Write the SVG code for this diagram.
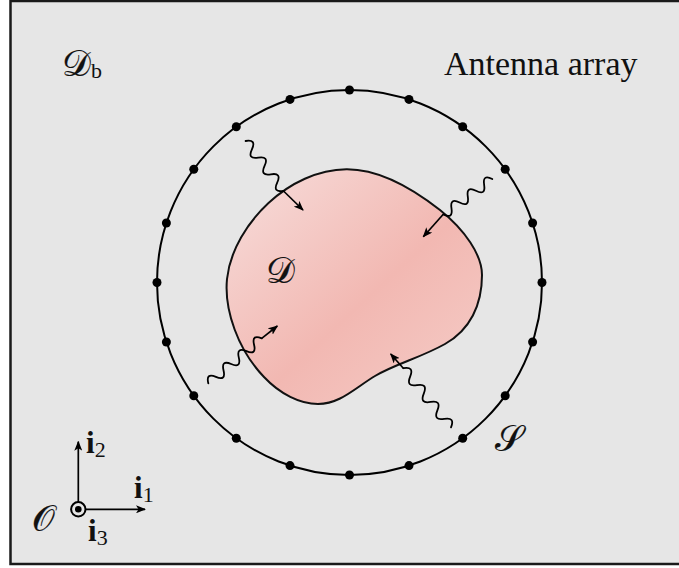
<svg xmlns="http://www.w3.org/2000/svg" width="679" height="568" viewBox="0 0 679 568">
<style>
.frame{fill:#e6e6e6;stroke:#1a1a1a;stroke-width:2.5}
.ring{fill:none;stroke:#000;stroke-width:2}
.dot{fill:#000}
.blob{stroke:#111;stroke-width:2}
.wave{fill:none;stroke:#000;stroke-width:1.8;stroke-linecap:round}
.arr{fill:none;stroke:#000;stroke-width:1.7;marker-end:url(#ah)}
.t{font-family:"Liberation Serif","DejaVu Serif",serif;fill:#111}
.cal{font-family:"DejaVu Serif","DejaVu Sans","Noto Sans",serif;fill:#111;stroke:#111;stroke-width:0.2}
.b{font-weight:bold}
</style>
<defs>
<linearGradient id="pink" x1="0" y1="0" x2="1" y2="1">
<stop offset="0" stop-color="#f7dedc"/>
<stop offset="0.55" stop-color="#f2b8b2"/>
<stop offset="1" stop-color="#f5cdc8"/>
</linearGradient>
<marker id="ah" viewBox="0 0 10 8" refX="9" refY="4" markerWidth="10" markerHeight="8" markerUnits="userSpaceOnUse" orient="auto">
<path d="M0,0 L10,4 L0,8 L2.5,4 Z" fill="#000"/>
</marker>
</defs>
<rect class="frame" x="10.5" y="1" width="680" height="563"/>
<g id="array">
<circle class="ring" cx="349.5" cy="282.5" r="192.5"/>
<circle class="dot" cx="542" cy="282.5" r="4.5"/>
<circle class="dot" cx="532.6" cy="223" r="4.5"/>
<circle class="dot" cx="505.2" cy="169.3" r="4.5"/>
<circle class="dot" cx="462.7" cy="126.8" r="4.5"/>
<circle class="dot" cx="409" cy="99.4" r="4.5"/>
<circle class="dot" cx="349.5" cy="90" r="4.5"/>
<circle class="dot" cx="290" cy="99.4" r="4.5"/>
<circle class="dot" cx="236.3" cy="126.8" r="4.5"/>
<circle class="dot" cx="193.8" cy="169.3" r="4.5"/>
<circle class="dot" cx="166.4" cy="223" r="4.5"/>
<circle class="dot" cx="157" cy="282.5" r="4.5"/>
<circle class="dot" cx="166.4" cy="342" r="4.5"/>
<circle class="dot" cx="193.8" cy="395.7" r="4.5"/>
<circle class="dot" cx="236.3" cy="438.2" r="4.5"/>
<circle class="dot" cx="290" cy="465.6" r="4.5"/>
<circle class="dot" cx="349.5" cy="475" r="4.5"/>
<circle class="dot" cx="409" cy="465.6" r="4.5"/>
<circle class="dot" cx="462.7" cy="438.2" r="4.5"/>
<circle class="dot" cx="505.2" cy="395.7" r="4.5"/>
<circle class="dot" cx="532.6" cy="342" r="4.5"/>
</g>
<g id="scatterer">
<path class="blob" fill="url(#pink)" d="M346.5,169.2 C318,169.5 290,183 268.5,203 C248,222 230,250 227,279 C224,310 238,350 264,377 C280,394 300,404 318,404 C340,404 355,388 375,376 C395,364 420,358 445,344 C470,330 482,305 482,275 C482,255 465,230 440,210 C412,188 378,169 346.5,169.2 Z"/>
</g>
<g id="connectors">
<path class="wave" transform="translate(245.6,141) rotate(52.8)" d="M0,0 Q5.225,-10 10.45,0 T20.9,0 T31.35,0 T41.8,0 T52.25,0 T62.7,0"/>
<path class="arr" d="M283.5,191 L303,210"/>
<path class="wave" transform="translate(492.3,179) rotate(144.2)" d="M0,0 Q5.03,10 10.07,0 T20.13,0 T30.2,0 T40.27,0 T50.33,0 T60.4,0"/>
<path class="arr" d="M443.3,214.3 L423.3,236.7"/>
<path class="wave" transform="translate(208.3,383.3) rotate(-40.1)" d="M0,0 Q4.99,-10 9.97,0 T19.94,0 T29.91,0 T39.89,0 T49.86,0 T59.83,0 T69.8,0"/>
<path class="arr" d="M261.7,338.3 L277.3,326"/>
<path class="wave" transform="translate(451,427.3) rotate(-128.9)" d="M0,0 Q5.42,10 10.84,0 T21.69,0 T32.53,0 T43.37,0 T54.21,0 T65.06,0 T75.9,0"/>
<path class="arr" d="M403.3,368.3 L390.7,354"/>
<path class="arr" d="M78.3,502 L78.3,441.7"/>
<path class="arr" d="M85.6,509.3 L145,509.3"/>
</g>
<g id="axes">
<circle cx="78.3" cy="509.3" r="7.2" fill="none" stroke="#000" stroke-width="2"/>
<circle cx="78.3" cy="509.3" r="3.3" fill="#000"/>
<text class="t b" x="86" y="453" font-size="31">i<tspan font-weight="normal" font-size="22" dy="4">2</tspan></text>
<text class="t b" x="134" y="498" font-size="31">i<tspan font-weight="normal" font-size="22" dy="4">1</tspan></text>
<text class="t b" x="88" y="541" font-size="31">i<tspan font-weight="normal" font-size="22" dy="4">3</tspan></text>
<text class="cal" x="32" y="531" font-size="36">𝒪</text>
</g>
<g id="labels">
<text class="cal" x="62" y="76" font-size="36">𝒟<tspan class="t" stroke="none" font-size="22" dy="2">b</tspan></text>
<text class="t" x="444" y="75" font-size="34">Antenna array</text>
<text class="cal" x="266" y="283" font-size="36">𝒟</text>
<text class="cal" x="495" y="451" font-size="36">𝒮</text>
</g>
</svg>
